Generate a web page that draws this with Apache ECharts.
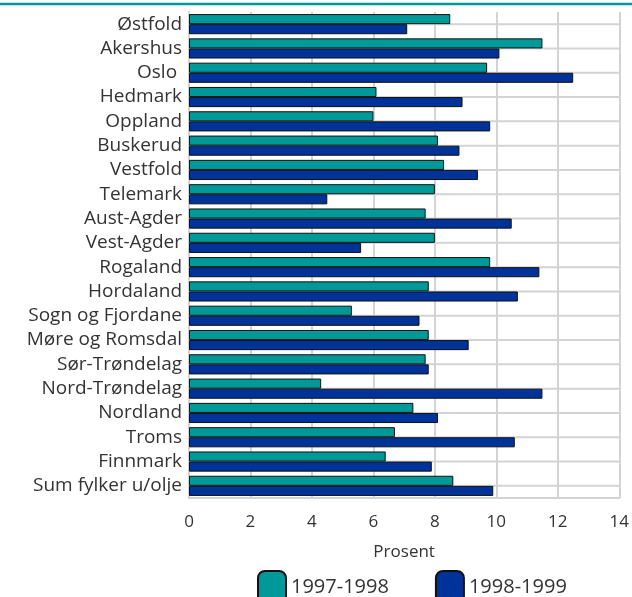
<!DOCTYPE html>
<html><head><meta charset="utf-8">
<script src="https://cdn.jsdelivr.net/npm/echarts@6/dist/echarts.min.js"></script>
<style>html,body{margin:0;padding:0;background:#fff}#c{width:632px;height:597px}</style>
</head><body><div id="c"></div>
<script>
const categories = ["Østfold","Akershus","Oslo ","Hedmark","Oppland","Buskerud","Vestfold","Telemark","Aust-Agder","Vest-Agder","Rogaland","Hordaland","Sogn og Fjordane","Møre og Romsdal","Sør-Trøndelag","Nord-Trøndelag","Nordland","Troms","Finnmark","Sum fylker u/olje"];
const series1997 = [8.5,11.5,9.7,6.1,6.0,8.1,8.3,8.0,7.7,8.0,9.8,7.8,5.3,7.8,7.7,4.3,7.3,6.7,6.4,8.6];
const series1998 = [7.1,10.1,12.5,8.9,9.8,8.8,9.4,4.5,10.5,5.6,11.4,10.7,7.5,9.1,7.8,11.5,8.1,10.6,7.9,9.9];
const seriesNames = ["1997-1998","1998-1999"];
const xTicks = {min:0,max:14,interval:2};

const chart = echarts.init(document.getElementById('c'));
const font = '"Open Sans", sans-serif';
const grid = '#d3d3d3';
chart.setOption({
  animation:false,
  textStyle:{fontFamily:font},
  graphic:[{type:'line',shape:{x1:0,y1:4,x2:632,y2:4},style:{stroke:'#009999',lineWidth:2.5}}],
  grid:{left:189,right:12,top:12,bottom:99,containLabel:false},
  legend:{top:565,left:252,itemWidth:28,itemHeight:32,itemGap:46,
    textStyle:{fontSize:20,color:'#333',fontFamily:font},
    data:seriesNames},
  xAxis:{type:'value',min:xTicks.min,max:xTicks.max,interval:xTicks.interval,
    name:'Prosent',nameLocation:'middle',nameGap:46,
    nameTextStyle:{fontSize:17,color:'#333'},
    axisLine:{show:true,lineStyle:{color:grid,width:2}},
    axisTick:{show:false},
    axisLabel:{fontSize:17,color:'#333',margin:16},
    splitLine:{show:true,lineStyle:{color:grid,width:2}}},
  yAxis:{type:'category',data:categories,inverse:true,
    axisLine:{show:true,lineStyle:{color:grid,width:2}},
    axisTick:{show:false},
    axisLabel:{fontSize:19,color:'#333',margin:7,interval:0,hideOverlap:false},
    splitLine:{show:false}},
  series:[
    {name:'hgrid',type:'custom',silent:true,z:1,
     data:categories.map((c,i)=>[xTicks.min,i]),
     encode:{x:0,y:1},
     renderItem:function(params,api){
       const y = api.value(1);
       const p0 = api.coord([xTicks.min,y]);
       const p1 = api.coord([xTicks.max,y]);
       return {type:'line',shape:{x1:p0[0],y1:p0[1],x2:p1[0],y2:p1[1]},
               style:{stroke:grid,lineWidth:2}};
     }},
    {name:seriesNames[0],type:'bar',data:series1997,barGap:'0%',barCategoryGap:'17%',z:3,
     itemStyle:{color:'#009999',borderColor:'#111',borderWidth:1}},
    {name:seriesNames[1],type:'bar',data:series1998,barGap:'0%',barCategoryGap:'17%',z:3,
     itemStyle:{color:'#003399',borderColor:'#111',borderWidth:1}}
  ]
});
</script></body></html>
